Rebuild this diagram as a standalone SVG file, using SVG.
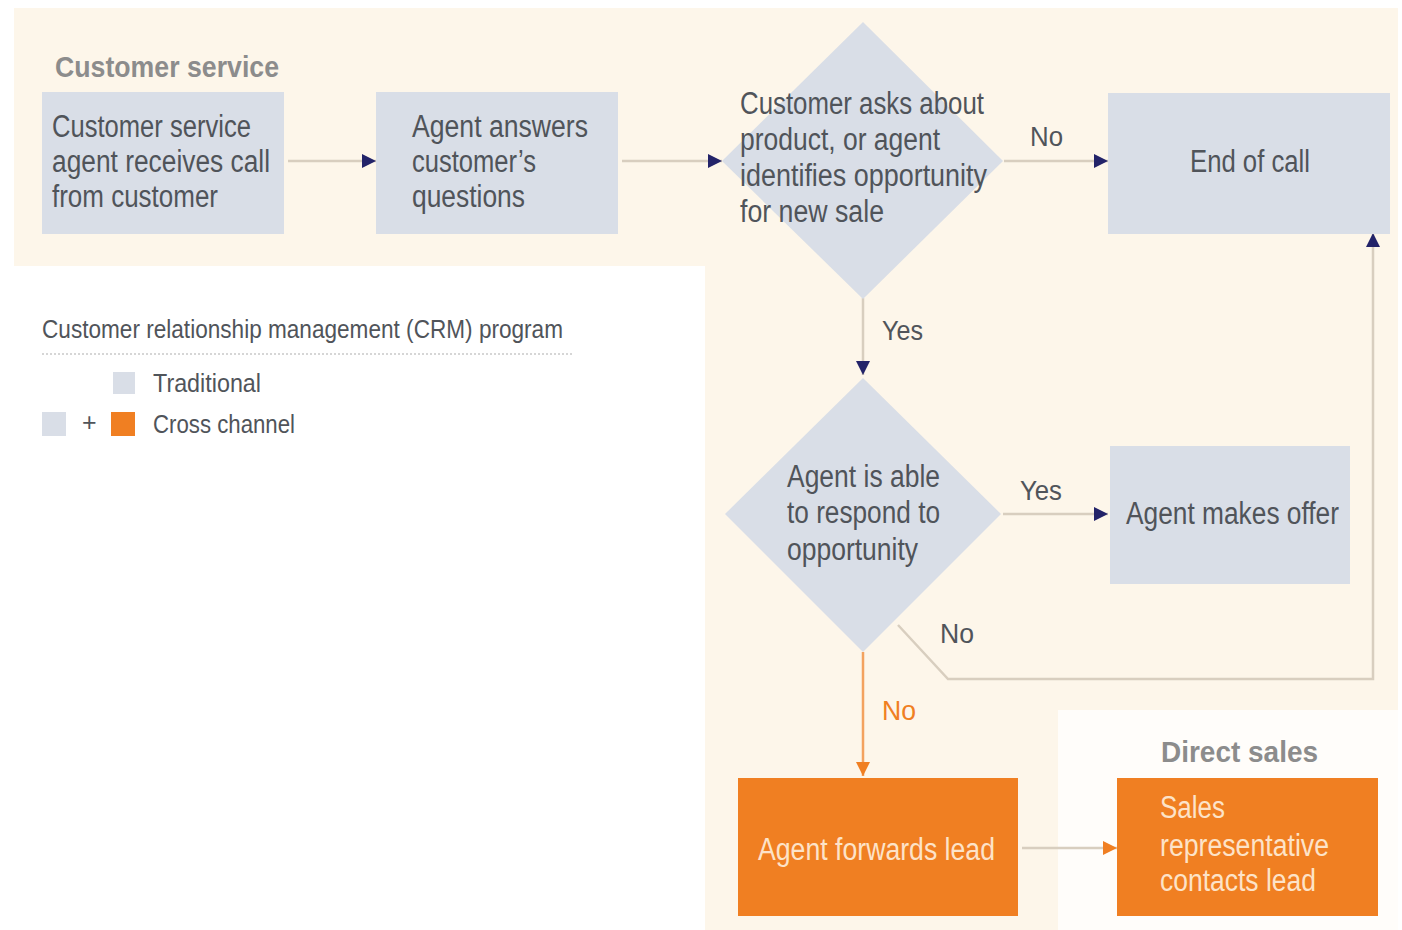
<svg xmlns="http://www.w3.org/2000/svg" width="1402" height="930" viewBox="0 0 1402 930">
<defs>
<style>
.bg{fill:#fdf6ea}
.node{fill:#d9dee7}
.orange{fill:#f07f22}
.t{font-family:"Liberation Sans Narrow","Liberation Sans",Arial,sans-serif;font-size:31px;fill:#50545a}
.tw{font-family:"Liberation Sans Narrow","Liberation Sans",Arial,sans-serif;font-size:31px;fill:#fde3c8}
.lbl{font-family:"Liberation Sans Narrow","Liberation Sans",Arial,sans-serif;font-size:28px;fill:#50545a}
.lblo{font-family:"Liberation Sans Narrow","Liberation Sans",Arial,sans-serif;font-size:28px;fill:#f07f22}
.head{font-family:"Liberation Sans Narrow","Liberation Sans",Arial,sans-serif;font-size:29px;font-weight:bold;fill:#8c8c8c}
.leg{font-family:"Liberation Sans Narrow","Liberation Sans",Arial,sans-serif;font-size:25px;fill:#50545a}
.ln{fill:none;stroke:#d8cebf;stroke-width:2.5}
.lno{fill:none;stroke:#f3a25f;stroke-width:2.5}
</style>
<marker id="ah" viewBox="0 0 10 10" refX="10" refY="5" markerWidth="14" markerHeight="14" markerUnits="userSpaceOnUse" orient="auto">
<path d="M0,0 L10,5 L0,10 z" fill="#232369"/>
</marker>
<marker id="aho" viewBox="0 0 10 10" refX="10" refY="5" markerWidth="14" markerHeight="14" markerUnits="userSpaceOnUse" orient="auto">
<path d="M0,0 L10,5 L0,10 z" fill="#f07f22"/>
</marker>
</defs>
<rect x="0" y="0" width="1402" height="930" fill="#ffffff"/>
<g id="background">
<rect class="bg" x="14" y="8" width="1384" height="258"/>
<rect class="bg" x="705" y="8" width="693" height="922"/>
<rect x="1058" y="710" width="340" height="220" fill="#fffdfa"/>
</g>
<g id="titles">
<text class="head" x="55" y="77" textLength="224" lengthAdjust="spacingAndGlyphs">Customer service</text>
<text class="head" x="1161" y="762" textLength="157" lengthAdjust="spacingAndGlyphs">Direct sales</text>
</g>
<g id="legend">
<text class="leg" x="42" y="338" textLength="521" lengthAdjust="spacingAndGlyphs">Customer relationship management (CRM) program</text>
<line x1="42" y1="354" x2="573" y2="354" stroke="#c9c9c9" stroke-width="1.5" stroke-dasharray="2 2"/>
<rect class="node" x="113" y="372" width="22" height="22"/>
<text class="leg" x="153" y="392" textLength="108" lengthAdjust="spacingAndGlyphs">Traditional</text>
<rect class="node" x="42" y="412" width="24" height="24"/>
<text class="leg" x="82" y="431" font-size="16px">+</text>
<rect class="orange" x="111" y="412" width="24" height="24"/>
<text class="leg" x="153" y="433" textLength="142" lengthAdjust="spacingAndGlyphs">Cross channel</text>
</g>
<g id="connectors">
<line class="ln" x1="288" y1="161" x2="376" y2="161" marker-end="url(#ah)"/>
<line class="ln" x1="622" y1="161" x2="722" y2="161" marker-end="url(#ah)"/>
<line class="ln" x1="1004" y1="161" x2="1108" y2="161" marker-end="url(#ah)"/>
<line class="ln" x1="863" y1="298" x2="863" y2="375" marker-end="url(#ah)"/>
<line class="ln" x1="1003" y1="514" x2="1108" y2="514" marker-end="url(#ah)"/>
<polyline class="ln" points="898,625 948,679 1373,679 1373,233" marker-end="url(#ah)"/>
<line class="lno" x1="863" y1="652" x2="863" y2="776" marker-end="url(#aho)"/>
<line class="ln" x1="1022" y1="848" x2="1117" y2="848" marker-end="url(#aho)"/>
<text class="lbl" x="1030" y="146" textLength="33" lengthAdjust="spacingAndGlyphs">No</text>
<text class="lbl" x="882" y="340" textLength="41" lengthAdjust="spacingAndGlyphs">Yes</text>
<text class="lbl" x="1020" y="500" textLength="42" lengthAdjust="spacingAndGlyphs">Yes</text>
<text class="lbl" x="940" y="643" textLength="34" lengthAdjust="spacingAndGlyphs">No</text>
<text class="lblo" x="882" y="720" textLength="34" lengthAdjust="spacingAndGlyphs">No</text>
</g>
<g id="n1">
<rect class="node" x="42" y="92" width="242" height="142"/>
<text class="t" x="52" y="137" textLength="199" lengthAdjust="spacingAndGlyphs">Customer service</text>
<text class="t" x="52" y="172" textLength="218" lengthAdjust="spacingAndGlyphs">agent receives call</text>
<text class="t" x="52" y="207" textLength="166" lengthAdjust="spacingAndGlyphs">from customer</text>
</g>
<g id="n2">
<rect class="node" x="376" y="92" width="242" height="142"/>
<text class="t" x="412" y="137" textLength="176" lengthAdjust="spacingAndGlyphs">Agent answers</text>
<text class="t" x="412" y="172" textLength="124" lengthAdjust="spacingAndGlyphs">customer’s</text>
<text class="t" x="412" y="207" textLength="113" lengthAdjust="spacingAndGlyphs">questions</text>
</g>
<g id="d1">
<polygon class="node" points="863,22 1003,161 863,299 722,161"/>
<text class="t" x="740" y="114" textLength="244" lengthAdjust="spacingAndGlyphs">Customer asks about</text>
<text class="t" x="740" y="150" textLength="200" lengthAdjust="spacingAndGlyphs">product, or agent</text>
<text class="t" x="740" y="186" textLength="247" lengthAdjust="spacingAndGlyphs">identifies opportunity</text>
<text class="t" x="740" y="222" textLength="144" lengthAdjust="spacingAndGlyphs">for new sale</text>
</g>
<g id="n3">
<rect class="node" x="1108" y="93" width="282" height="141"/>
<text class="t" x="1190" y="172" textLength="120" lengthAdjust="spacingAndGlyphs">End of call</text>
</g>
<g id="d2">
<polygon class="node" points="863,378 1001,514 863,652 725,514"/>
<text class="t" x="787" y="487" textLength="153" lengthAdjust="spacingAndGlyphs">Agent is able</text>
<text class="t" x="787" y="523" textLength="153" lengthAdjust="spacingAndGlyphs">to respond to</text>
<text class="t" x="787" y="560" textLength="131" lengthAdjust="spacingAndGlyphs">opportunity</text>
</g>
<g id="n4">
<rect class="node" x="1110" y="446" width="240" height="138"/>
<text class="t" x="1126" y="524" textLength="213" lengthAdjust="spacingAndGlyphs">Agent makes offer</text>
</g>
<g id="n5">
<rect class="orange" x="738" y="778" width="280" height="138"/>
<text class="tw" x="758" y="860" textLength="237" lengthAdjust="spacingAndGlyphs">Agent forwards lead</text>
</g>
<g id="n6">
<rect class="orange" x="1117" y="778" width="261" height="138"/>
<text class="tw" x="1160" y="818" textLength="65" lengthAdjust="spacingAndGlyphs">Sales</text>
<text class="tw" x="1160" y="856" textLength="169" lengthAdjust="spacingAndGlyphs">representative</text>
<text class="tw" x="1160" y="891" textLength="156" lengthAdjust="spacingAndGlyphs">contacts lead</text>
</g>
</svg>
